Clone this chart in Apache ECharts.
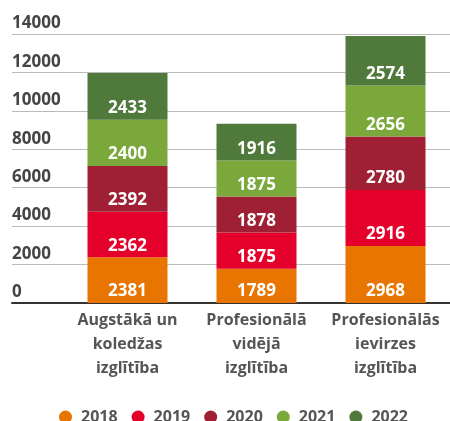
<!DOCTYPE html>
<html>
<head>
<meta charset="utf-8">
<script src="https://cdn.jsdelivr.net/npm/echarts@6/dist/echarts.min.js"></script>
<style>
  html, body { margin: 0; padding: 0; background: #fff; }
  #chart { width: 450px; height: 421px; }
</style>
</head>
<body>
<div id="chart"></div>
<script>
// kategorijas
const categories = ["Augstākā un\nkoledžas\nizglītība", "Profesionālā\nvidējā\nizglītība", "Profesionālās\nievirzes\nizglītība"];
const years = ["2018", "2019", "2020", "2021", "2022"];
const v2018 = [2381, 1789, 2968];
const v2019 = [2362, 1875, 2916];
const v2020 = [2392, 1878, 2780];
const v2021 = [2400, 1875, 2656];
const v2022 = [2433, 1916, 2574];
const yTicks = [0, 2000, 4000, 6000, 8000, 10000, 12000, 14000];

const values = [v2018, v2019, v2020, v2021, v2022];
const colors = ["#E87500", "#E4002B", "#9F2035", "#7BA83A", "#4F7A3B"];
const font = "'Open Sans', sans-serif";

const chart = echarts.init(document.getElementById("chart"));

let option = {
  animation: false,
  textStyle: { fontFamily: font },
  color: colors,
  legend: {
    data: years,
    top: 404,
    left: 54,
    icon: "circle",
    itemWidth: 13,
    itemHeight: 13,
    itemGap: 14,
    textStyle: { fontSize: 16, fontWeight: "bold", color: "#555", fontFamily: font, padding: [0, 0, 0, 4] }
  },
  grid: [
    { left: 12, right: 0, top: 34, bottom: 118 },
    { left: 63, right: -3, top: 34, bottom: 118 }
  ],
  xAxis: [
    {
      gridIndex: 0,
      type: "category",
      data: categories,
      axisLine: { lineStyle: { color: "#333", width: 2 } },
      axisTick: { show: false },
      axisLabel: { show: false }
    },
    {
      gridIndex: 1,
      type: "category",
      data: categories,
      axisLine: { show: false },
      axisTick: { show: false },
      axisLabel: {
        interval: 0,
        margin: 5,
        fontSize: 16,
        fontWeight: "bold",
        color: "#555",
        lineHeight: 24,
        fontFamily: font
      }
    }
  ],
  yAxis: [
    {
      gridIndex: 0,
      type: "value",
      min: yTicks[0],
      max: yTicks[yTicks.length - 1],
      interval: 2000,
      axisLine: { show: false },
      axisTick: { show: false },
      axisLabel: {
        inside: true,
        margin: 0,
        verticalAlign: "bottom",
        padding: [0, 0, 2, 0],
        fontSize: 17,
        fontWeight: "bold",
        color: "#444",
        fontFamily: font,
        formatter: (v) => String(v)
      },
      splitLine: { lineStyle: { color: "#bbb", width: 1 } }
    },
    {
      gridIndex: 1,
      type: "value",
      min: yTicks[0],
      max: yTicks[yTicks.length - 1],
      interval: 2000,
      show: false,
      splitLine: { show: false }
    }
  ]
};

option.series = years.map((y, i) => {
  return {
    name: y,
    type: "bar",
    stack: "total",
    xAxisIndex: 1,
    yAxisIndex: 1,
    barWidth: 80,
    itemStyle: { color: colors[i] },
    label: {
      show: true,
      position: "insideBottom",
      distance: 3,
      color: "#fff",
      fontSize: 17,
      fontWeight: "bold",
      fontFamily: font
    },
    data: values[i]
  };
});

chart.setOption(option);
</script>
</body>
</html>
